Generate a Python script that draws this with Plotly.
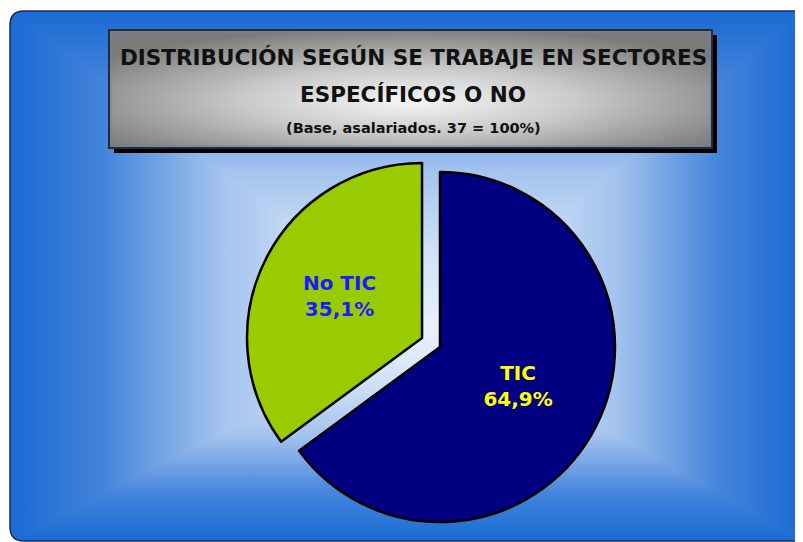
"""Pie chart: distribución según se trabaje en sectores específicos o no."""

import base64

import plotly.graph_objects as go

W, H = 795, 542
OFFSET = 8  # the page body margin shifts the figure by this many pixels

labels = ["TIC", "No TIC"]
values = [64.9, 35.1]
slice_colors = ["#000080", "#99cc00"]
text_colors = ["#ffff00", "#1a1aff"]
pulls = [0, 0.115]

title_lines = [
    "DISTRIBUCIÓN SEGÚN SE TRABAJE EN SECTORES",
    "ESPECÍFICOS O NO",
    "(Base, asalariados. 37 = 100%)",
]

FONT = "DejaVu Sans, Lato, sans-serif"

# edge (0) -> centre (1)
GRAD_STOPS = [(0, "#1a6bd4"), (0.22, "#4383db"), (0.5, "#a4c3ee"), (0.75, "#d0e1f7"), (1, "#eaf2fc")]


def px_x(page_x: float) -> float:
    return (page_x - OFFSET) / W


def px_y(page_y: float) -> float:
    return 1 - (page_y - OFFSET) / H


def _mirrored_stops(mid: float) -> str:
    left = [(o * mid, c) for o, c in GRAD_STOPS]
    right = [(mid + (1 - o) * (1 - mid), c) for o, c in reversed(GRAD_STOPS)]
    return "".join(f'<stop offset="{o:.4f}" stop-color="{c}"/>' for o, c in left + right[1:])


def _background_svg() -> str:
    # rectangular "from centre" gradient: horizontal and vertical ramps combined with darken
    x0, y0, x1, y1 = 10, 11, 803, 541
    cx, cy = 430, 330
    hmid = (cx - x0) / (x1 - x0)
    vmid = (cy - y0) / (y1 - y0)
    r = 14
    outline = (f"M{x0 + r},{y0} H900 V{y1} H{x0 + r} "
               f"Q{x0},{y1} {x0},{y1 - r} V{y0 + r} Q{x0},{y0} {x0 + r},{y0} Z")
    svg = f"""<svg xmlns="http://www.w3.org/2000/svg" width="{W}" height="{H}" viewBox="0 0 {W} {H}" preserveAspectRatio="none">
<defs>
<clipPath id="clip"><path d="{outline}"/></clipPath>
<linearGradient id="gh" gradientUnits="userSpaceOnUse" x1="{x0}" y1="0" x2="{x1}" y2="0">{_mirrored_stops(hmid)}</linearGradient>
<linearGradient id="gv" gradientUnits="userSpaceOnUse" x1="0" y1="{y0}" x2="0" y2="{y1}">{_mirrored_stops(vmid)}</linearGradient>
<radialGradient id="grey" cx="0.5" cy="0.6" r="0.62">
<stop offset="0" stop-color="#f6f6f6"/>
<stop offset="0.45" stop-color="#c9c9c9"/>
<stop offset="1" stop-color="#7b7b7b"/>
</radialGradient>
</defs>
<g transform="translate(-{OFFSET} -{OFFSET})">
<g clip-path="url(#clip)">
<rect x="{x0}" y="{y0}" width="900" height="{y1 - y0}" fill="#1a6bd4"/>
<g style="isolation:isolate">
<rect x="{x0}" y="{y0}" width="{x1 - x0}" height="{y1 - y0}" fill="url(#gh)"/>
<rect x="{x0}" y="{y0}" width="{x1 - x0}" height="{y1 - y0}" fill="url(#gv)" style="mix-blend-mode:darken"/>
</g>
</g>
<path d="{outline}" fill="none" stroke="#1b2a55" stroke-width="1.5"/>
<rect x="114" y="35" width="603" height="118" fill="#000"/>
<rect x="109" y="30" width="603" height="118" fill="url(#grey)" stroke="#2a2a2a" stroke-width="2"/>
<rect x="111" y="32" width="599" height="114" fill="none" stroke="#5f86c8" stroke-width="0.8"/>
</g>
</svg>"""
    return "data:image/svg+xml;base64," + base64.b64encode(svg.encode("utf-8")).decode("ascii")


# pie centre (page px) and outer radius of the unpulled slice
PIE_CX, PIE_CY, PIE_R = 440, 347, 175
half = PIE_R * (1 + max(pulls))

fig = go.Figure(
    go.Pie(
        labels=labels,
        values=values,
        sort=False,
        direction="clockwise",
        rotation=0,
        pull=pulls,
        marker=dict(colors=slice_colors, line=dict(color="#000000", width=2.5)),
        texttemplate="%{label}<br>%{value:.1f}%",
        textposition="inside",
        insidetextorientation="horizontal",
        insidetextfont=dict(family=FONT, size=20, color=text_colors, weight="bold"),
        hoverinfo="label+percent",
        domain=dict(
            x=[px_x(PIE_CX - half), px_x(PIE_CX + half)],
            y=[px_y(PIE_CY + half), px_y(PIE_CY - half)],
        ),
    )
)

fig.add_layout_image(
    source=_background_svg(),
    xref="paper", yref="paper", x=0, y=1, sizex=1, sizey=1,
    xanchor="left", yanchor="top", sizing="stretch", layer="below",
)

for text, y, size in zip(title_lines, [58, 95, 128], [21.5, 21.5, 14.5]):
    fig.add_annotation(
        text=text, x=px_x(413), y=px_y(y), xref="paper", yref="paper", showarrow=False,
        xanchor="center", yanchor="middle",
        font=dict(family=FONT, size=size, color="#111111", weight="bold"),
    )

fig.update_layout(
    width=W,
    height=H,
    separators=",.",
    showlegend=False,
    margin=dict(l=0, r=0, t=0, b=0),
    paper_bgcolor="#ffffff",
    plot_bgcolor="#ffffff",
)

fig.write_html("out.html")
